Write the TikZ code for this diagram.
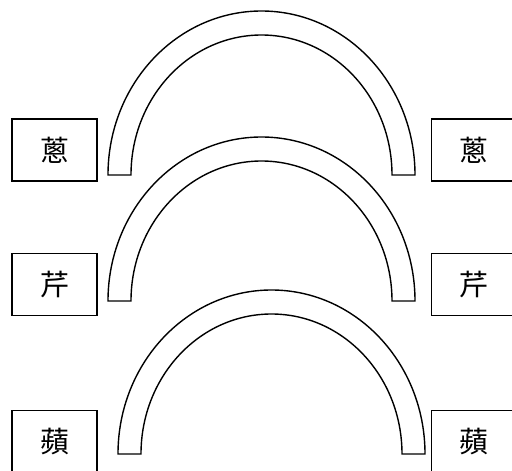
\documentclass[tikz,border=0pt]{standalone}
\usepackage{fontspec}
\newfontfamily\cjk{Noto Sans CJK TC}
\usetikzlibrary{positioning}

\tikzset{
  vegbox/.style={draw, line width=1.1pt, minimum width=85pt, minimum height=62pt,
    inner sep=0pt, font=\cjk\fontsize{29}{29}\selectfont},
  band/.style={draw, line width=1.4pt, fill=white, line join=miter},
}

\begin{document}
\begin{tikzpicture}[x=1pt, y=-1pt]

  \newcommand\Ro{153.5pt}; % outer half width
  \newcommand\Ho{164pt};   % outer height
  \newcommand\Ri{130.5pt}; % inner half width
  \newcommand\Hi{140pt};   % inner height

  \useasboundingbox[fill=white] (0,0) rectangle (512,471);

  %% left column
  \node[vegbox] (l1) at (54.5,150) {蔥\hspace{13pt}};
  \node[vegbox, below=71pt of l1] (l2) {芹\hspace{13pt}};
  \node[vegbox, below=94pt of l2] (l3) {蘋\hspace{13pt}};

  %% right column
  \node[vegbox, right=333pt of l1] (r1) {蔥\hspace{11pt}};
  \node[vegbox, right=333pt of l2] (r2) {芹\hspace{11pt}};
  \node[vegbox, right=333pt of l3] (r3) {蘋\hspace{11pt}};

  %% arches
  \coordinate (a1) at (108,175);
  \coordinate (a2) at (108,301);
  \coordinate (a3) at (118,454);

  \draw[band] (a1) arc[start angle=180, end angle=0, x radius=\Ro, y radius=\Ho]
    -- ++(-23,0) arc[start angle=0, end angle=180, x radius=\Ri, y radius=\Hi] -- cycle;
  \draw[band] (a2) arc[start angle=180, end angle=0, x radius=\Ro, y radius=\Ho]
    -- ++(-23,0) arc[start angle=0, end angle=180, x radius=\Ri, y radius=\Hi] -- cycle;
  \draw[band] (a3) arc[start angle=180, end angle=0, x radius=\Ro, y radius=\Ho]
    -- ++(-23,0) arc[start angle=0, end angle=180, x radius=\Ri, y radius=\Hi] -- cycle;

\end{tikzpicture}
\end{document}
